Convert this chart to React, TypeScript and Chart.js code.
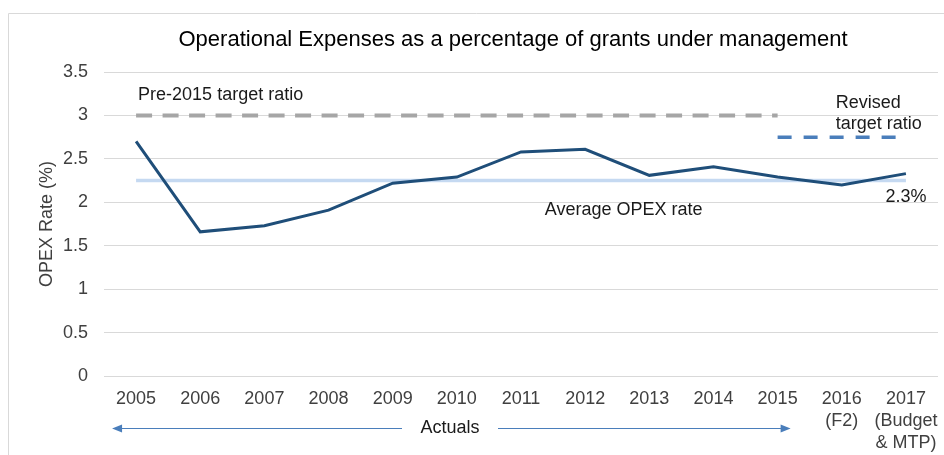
import React, { useEffect, useRef } from "react";
import { Chart, registerables } from "chart.js";

Chart.register(...registerables);

const categories: (string | string[])[] = [
  "2005", "2006", "2007", "2008", "2009", "2010", "2011", "2012", "2013", "2014", "2015",
  ["2016", "(F2)"],
  ["2017", "(Budget", "& MTP)"],
];
const opexRate = [2.7, 1.66, 1.73, 1.91, 2.22, 2.29, 2.58, 2.61, 2.31, 2.41, 2.29, 2.2, 2.33];
const averageRate = [2.25, 2.25, 2.25, 2.25, 2.25, 2.25, 2.25, 2.25, 2.25, 2.25, 2.25, 2.25, 2.25];
const preTarget = [3, 3, 3, 3, 3, 3, 3, 3, 3, 3, 3, null, null];
const revisedTarget = [null, null, null, null, null, null, null, null, null, null, 2.75, 2.75, 2.75];
const yTicks = { min: 0, max: 3.5, step: 0.5 };

const FONT = "'Liberation Sans', Arial, sans-serif";

const annotations = {
  id: "annotations",
  afterDraw(chart: any) {
    const ctx = chart.ctx;
    const x = chart.scales.x;
    const y = chart.scales.y;
    ctx.save();
    // outer border
    ctx.strokeStyle = "#d9d9d9";
    ctx.lineWidth = 1;
    ctx.beginPath();
    ctx.moveTo(8.5, 460);
    ctx.lineTo(8.5, 13.5);
    ctx.lineTo(950, 13.5);
    ctx.stroke();

    // title
    ctx.fillStyle = "#000";
    ctx.font = `22px ${FONT}`;
    ctx.textAlign = "center";
    ctx.textBaseline = "middle";
    ctx.fillText("Operational Expenses as a percentage of grants under management", 513, 40);

    // axis title
    ctx.save();
    ctx.translate(47, (chart.chartArea.top + chart.chartArea.bottom) / 2);
    ctx.rotate(-Math.PI / 2);
    ctx.fillStyle = "#404040";
    ctx.font = `18px ${FONT}`;
    ctx.fillText("OPEX Rate (%)", 0, 0);
    ctx.restore();

    ctx.font = `18px ${FONT}`;
    ctx.fillStyle = "#1a1a1a";
    ctx.textAlign = "left";
    ctx.fillText("Pre-2015 target ratio", x.getPixelForValue(0) + 2, y.getPixelForValue(3.24));
    ctx.fillText("Revised", x.getPixelForValue(11) - 6, y.getPixelForValue(3.14));
    ctx.fillText("target ratio", x.getPixelForValue(11) - 6, y.getPixelForValue(2.9));
    ctx.textAlign = "center";
    ctx.fillText("Average OPEX rate", x.getPixelForValue(7.6), y.getPixelForValue(1.915));
    ctx.fillText("2.3%", x.getPixelForValue(12), y.getPixelForValue(2.065));
    ctx.fillText("Actuals", 450, 428);

    // arrows
    const ay = 428.5;
    const lx = x.getPixelForValue(0) - 24;
    const rx = x.getPixelForValue(10) + 13;
    ctx.strokeStyle = "#4a7ebb";
    ctx.fillStyle = "#4a7ebb";
    ctx.lineWidth = 1.2;
    ctx.beginPath();
    ctx.moveTo(lx + 6, ay);
    ctx.lineTo(402, ay);
    ctx.moveTo(498, ay);
    ctx.lineTo(rx - 6, ay);
    ctx.stroke();
    ctx.beginPath();
    ctx.moveTo(lx, ay);
    ctx.lineTo(lx + 10, ay - 4);
    ctx.lineTo(lx + 10, ay + 4);
    ctx.closePath();
    ctx.fill();
    ctx.beginPath();
    ctx.moveTo(rx, ay);
    ctx.lineTo(rx - 10, ay - 4);
    ctx.lineTo(rx - 10, ay + 4);
    ctx.closePath();
    ctx.fill();
    ctx.restore();
  },
};

export default function App() {
  const ref = useRef<HTMLCanvasElement>(null);
  useEffect(() => {
    if (!ref.current) return;
    const chart = new Chart(ref.current, {
      type: "line",
      data: {
        labels: categories as any,
        datasets: [
          {
            label: "OPEX rate",
            data: opexRate,
            borderColor: "#1f4e79",
            borderWidth: 3,
            pointRadius: 0,
            tension: 0,
          },
          {
            label: "Average OPEX rate",
            data: averageRate,
            borderColor: "#c5d9f1",
            borderWidth: 3.5,
            pointRadius: 0,
          },
          {
            label: "Pre-2015 target ratio",
            data: preTarget as any,
            borderColor: "#a6a6a6",
            borderWidth: 4,
            borderDash: [16, 10.5],
            pointRadius: 0,
            spanGaps: false,
          },
          {
            label: "Revised target ratio",
            data: revisedTarget as any,
            borderColor: "#4a7ebb",
            borderWidth: 3.5,
            borderDash: [14, 12],
            pointRadius: 0,
          },
        ],
      },
      options: {
        animation: false,
        responsive: false,
        events: [],
        layout: { padding: { top: 72, right: 6, bottom: 0, left: 0 } },
        plugins: {
          legend: { display: false },
          title: { display: false },
          tooltip: { enabled: false },
        },
        scales: {
          x: {
            offset: true,
            grid: { display: false, drawTicks: false, offset: true },
            border: { display: false },
            ticks: {
              color: "#404040",
              font: { family: FONT, size: 18, lineHeight: 1.22 },
              padding: 12,
              maxRotation: 0,
              autoSkip: false,
            },
            afterFit: (s: any) => {
              s.height = 79;
              s.paddingLeft = 0;
              s.paddingRight = 0;
            },
          },
          y: {
            min: yTicks.min,
            max: yTicks.max,
            grid: { color: "#d9d9d9", lineWidth: 1, drawTicks: false },
            border: { display: false },
            ticks: {
              stepSize: yTicks.step,
              color: "#404040",
              font: { family: FONT, size: 18 },
              padding: 16,
              callback: (v: any) => String(Number(v)),
            },
            afterFit: (s: any) => {
              s.width = 104;
              s.paddingTop = 0;
              s.paddingBottom = 0;
            },
          },
        },
      },
      plugins: [annotations],
    });
    return () => chart.destroy();
  }, []);
  return (
    <div style={{ position: "fixed", left: 0, top: 0, width: 944, height: 455, background: "#fff" }}>
      <canvas ref={ref} width={944} height={455} />
    </div>
  );
}
